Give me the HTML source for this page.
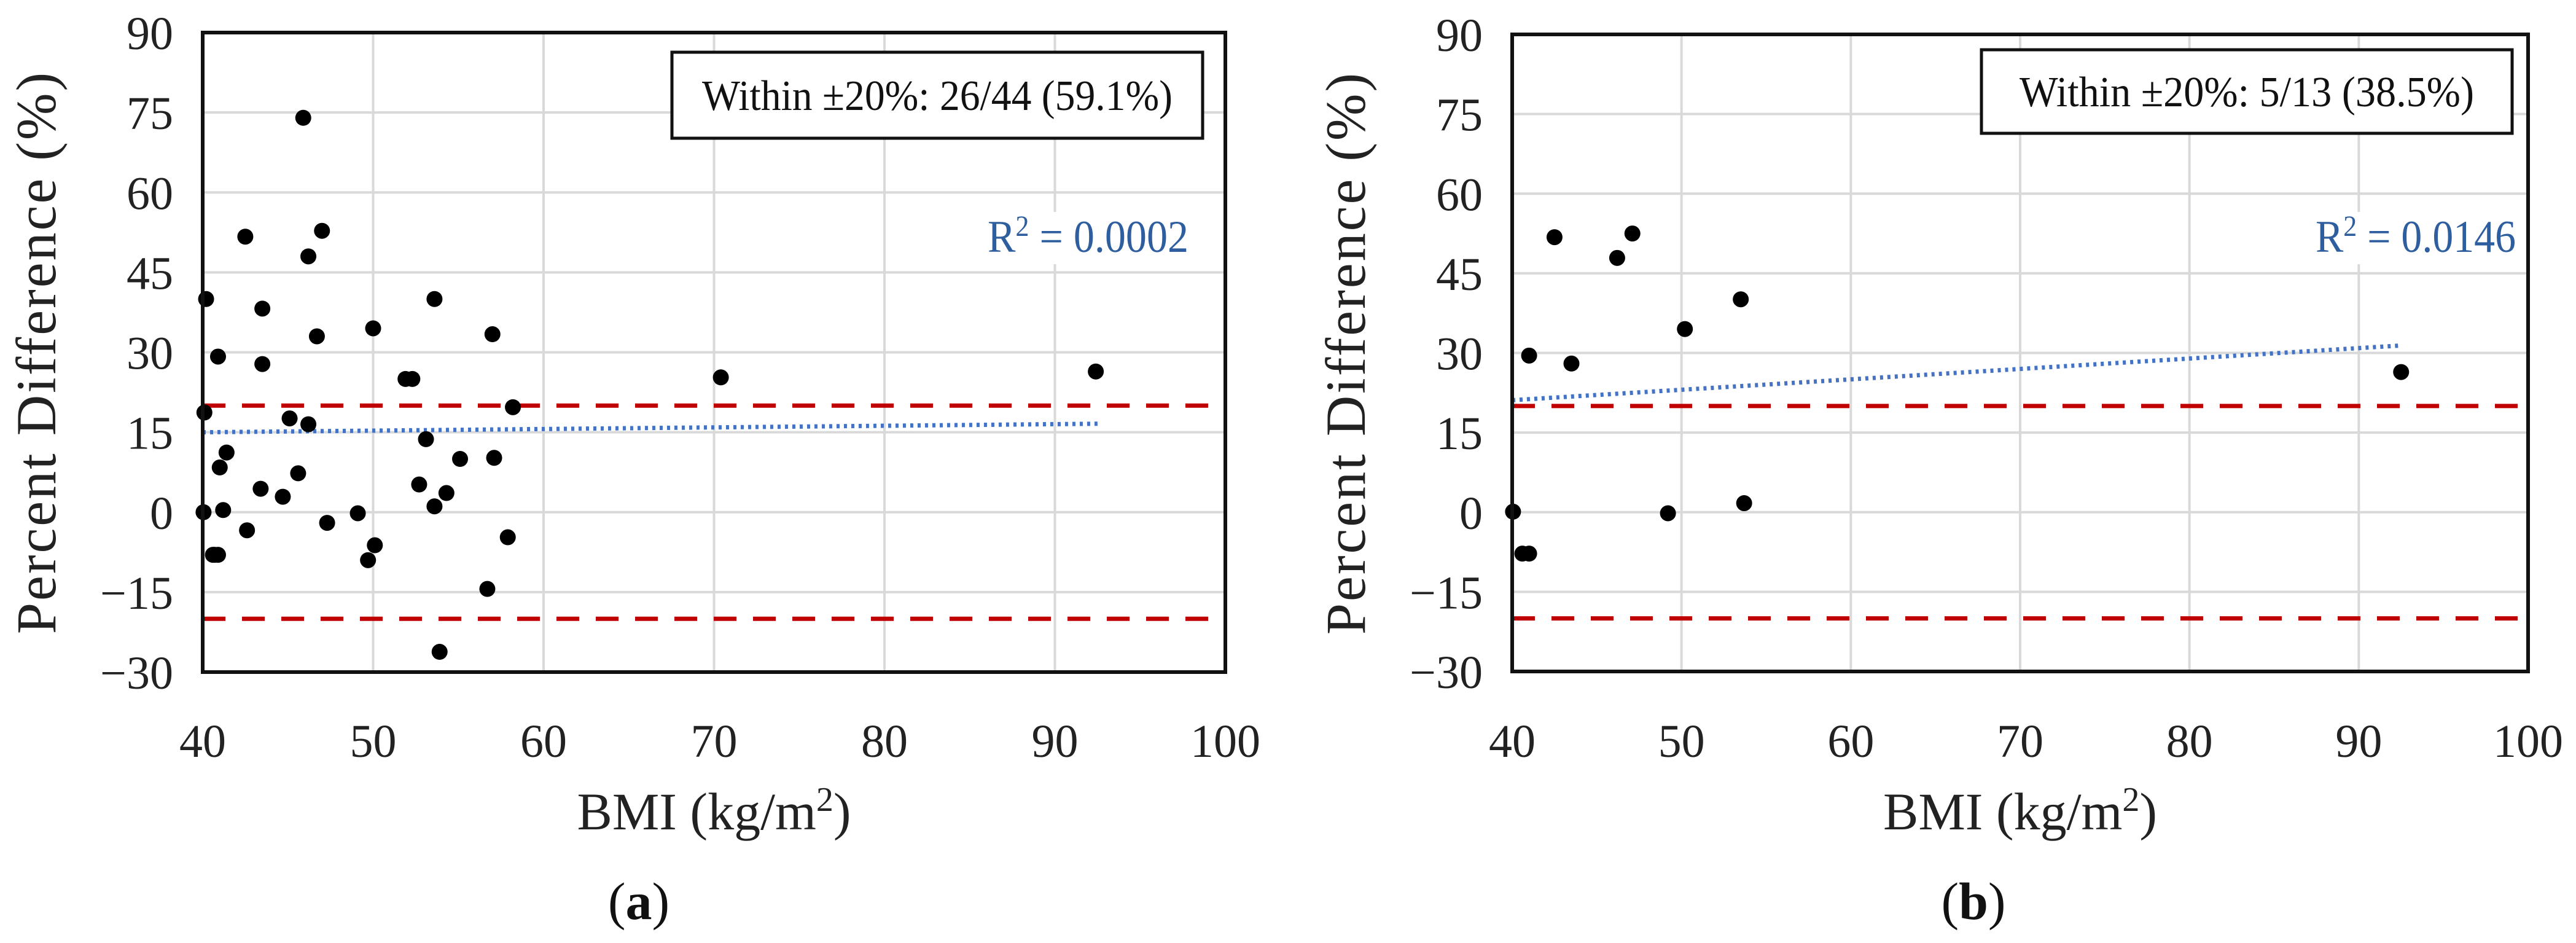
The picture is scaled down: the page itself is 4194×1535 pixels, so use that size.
<!DOCTYPE html>
<html><head><meta charset="utf-8"><style>
html,body{margin:0;padding:0;background:#fff;}
svg{display:block;font-family:"Liberation Serif",serif;}
</style></head><body>
<svg id="fig" width="4194" height="1535" viewBox="0 0 4194 1535" xmlns="http://www.w3.org/2000/svg"></svg>
<script>
const xTicks=[40,50,60,70,80,90,100];
const yTicks=[-30,-15,0,15,30,45,60,75,90];
const aX=[45.9,42.5,47.0,46.2,40.2,53.6,43.5,50.0,46.7,57.0,40.9,43.5,51.9,52.3,70.4,92.4,40.1,58.2,45.1,46.2,53.1,41.4,41.0,55.1,57.1,45.6,43.4,44.7,52.7,54.3,53.6,41.2,40.05,49.1,47.3,42.6,50.1,57.9,49.7,40.6,40.9,56.7,53.9,40.7];
const aY=[74,51.7,52.8,48,40,40,38.2,34.5,33,33.4,29.2,27.8,25,25,25.3,26.4,18.7,19.7,17.6,16.5,13.7,11.2,8.4,10,10.2,7.3,4.4,2.9,5.2,3.6,1.1,0.4,0,-0.2,-2,-3.4,-6.2,-4.7,-9,-8,-8,-14.4,-26.2,-8];
const bX=[42.5,47.1,46.2,53.5,50.2,41.0,43.5,92.5,40.05,49.2,53.7,40.6,41.0];
const bY=[51.8,52.5,47.9,40.1,34.5,29.5,28.0,26.4,0.1,-0.2,1.7,-7.8,-7.8];
const aTrend=[15.0,16.6];
const bTrend=[21.1,31.4];
const trendX=[40,92.5];
const limits=[20,-20];

const NS="http://www.w3.org/2000/svg";
const svg=document.getElementById('fig');
function el(t,a,p){const e=document.createElementNS(NS,t);for(const k in a)e.setAttribute(k,a[k]);(p||svg).appendChild(e);return e;}

function panel(id,L,R,T,B,xs,ys,tr,boxText,box,r2Text,r2,label,labelX){
  const g=el('g',{});
  
  
  const sx=v=>L+(v-40)/60*(R-L);
  const sy=v=>T+(90-v)/120*(B-T);
  xTicks.forEach(v=>{
    const l=el('line',{x1:sx(v),x2:sx(v),y1:T,y2:B,stroke:'#d9d9d9','stroke-width':4},g);
    
    
    const t=el('text',{x:sx(v),y:1232,'font-size':76,'text-anchor':'middle',fill:'#222'},g);
    t.textContent=v;
    
    
  });
  yTicks.forEach(v=>{
    const l=el('line',{x1:L,x2:R,y1:sy(v),y2:sy(v),stroke:'#d9d9d9','stroke-width':4},g);
    
    
    const t=el('text',{x:L-48,y:sy(v)+27,'font-size':76,'text-anchor':'end',fill:'#222'},g);
    t.textContent=v<0?'\u2212'+(-v):v;
    
    
  });
  limits.forEach(v=>{
    const l=el('line',{x1:L,x2:R,y1:sy(v),y2:sy(v),stroke:'#c00000','stroke-width':7,'stroke-dasharray':'37 27'},g);
    
    
  });
  const tl=el('line',{x1:sx(trendX[0]),x2:sx(trendX[1]),y1:sy(tr[0]),y2:sy(tr[1]),stroke:'#4472c4','stroke-width':7,'stroke-dasharray':'5 7'},g);
  
  
  xs.forEach((x,i)=>{
    const c=el('circle',{cx:sx(x),cy:sy(ys[i]),r:13,fill:'#000'},g);
    
    
  });
  const fr=el('rect',{x:L,y:T,width:R-L,height:B-T,fill:'none',stroke:'#111','stroke-width':6},g);
  
  
  const bx=el('rect',{x:box[0],y:box[1],width:box[2]-box[0],height:box[3]-box[1],fill:'#fff',stroke:'#111','stroke-width':5},g);
  
  
  const bt=el('text',{x:(box[0]+box[2])/2,y:(box[1]+box[3])/2+24,'font-size':70,'text-anchor':'middle',fill:'#111',textLength:box[4],lengthAdjust:'spacingAndGlyphs'},g);
  bt.textContent=boxText;
  
  
  el('rect',{x:r2[0]-10,y:r2[1]-65,width:r2[2]-r2[0]+20,height:85,fill:'#fff'},g);
  const rt=el('text',{x:r2[0],y:r2[1],'font-size':74,fill:'#2e5e9e',textLength:r2[2]-r2[0],lengthAdjust:'spacingAndGlyphs'},g);
  rt.innerHTML='R<tspan font-size="48" dy="-26">2</tspan><tspan dy="26"> = '+r2Text+'</tspan>';
  
  
  const yt=el('text',{x:0,y:0,'font-size':92,'text-anchor':'middle',fill:'#222','letter-spacing':'3',transform:'translate('+(L-240)+','+((T+B)/2)+') rotate(-90)'},g);
  yt.textContent='Percent Difference (%)';
  
  
  const xt=el('text',{x:(L+R)/2,y:1350,'font-size':86,'text-anchor':'middle',fill:'#222'},g);
  xt.innerHTML='BMI (kg/m<tspan font-size="56" dy="-30">2</tspan><tspan dy="30">)</tspan>';
  
  
  const lb=el('text',{x:labelX,y:1496,'font-size':86,'text-anchor':'middle',fill:'#111'},g);
  lb.innerHTML='(<tspan font-weight="bold">'+label+'</tspan>)';
  
  
}
panel('a',330,1995,53,1094,aX,aY,aTrend,'Within \u00b120%: 26/44 (59.1%)',[1094,85,1958,225,766],'0.0002',[1608,410,1935],'a',1040);
panel('b',2462,4116,56,1093,bX,bY,bTrend,'Within \u00b120%: 5/13 (38.5%)',[3226,81,4090,217,740],'0.0146',[3770,410,4096],'b',3213);
</script>
</body></html>
